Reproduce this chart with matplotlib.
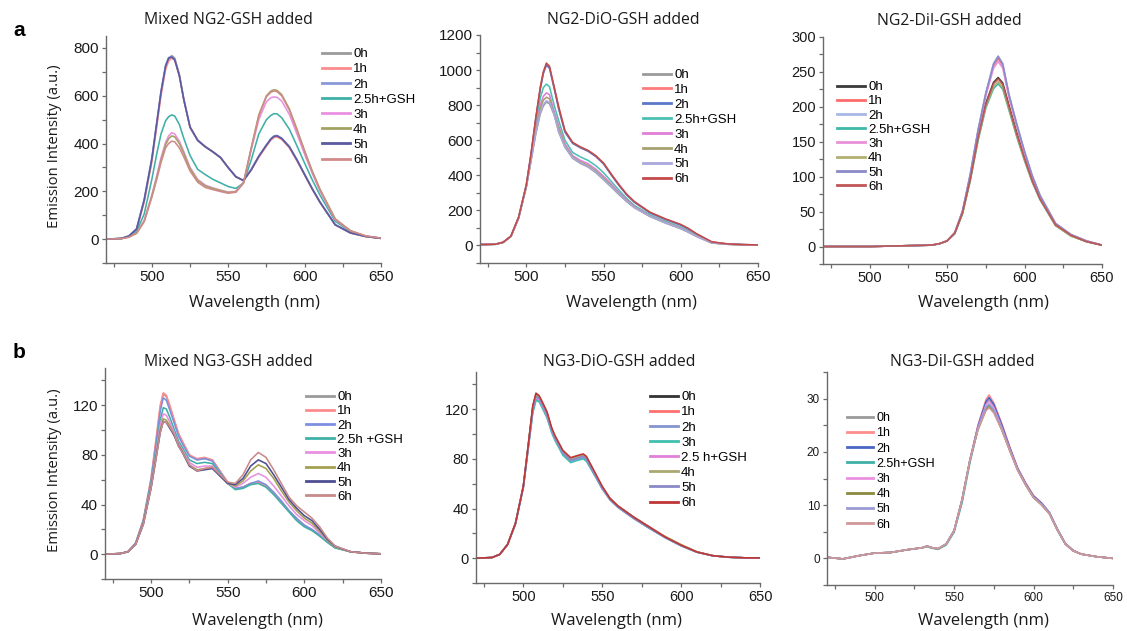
import matplotlib
matplotlib.use("Agg")
import matplotlib.pyplot as plt
from matplotlib.ticker import MultipleLocator
from matplotlib.lines import Line2D

# ---------------------------------------------------------------- data
labels = ["0h", "1h", "2h", "2.5h+GSH", "3h", "4h", "5h", "6h"]
labels_ng3 = ["0h", "1h", "2h", "2.5h +GSH", "3h", "4h", "5h", "6h"]
labels_ng3_dio = ["0h", "1h", "2h", "3h", "2.5 h+GSH", "4h", "5h", "6h"]

# Mixed NG2, GSH added
wl_mixed_ng2 = [470, 480, 485, 490, 495, 500, 503, 506, 509, 511, 513, 515, 518, 521, 525, 530, 535, 540,
                545, 550, 555, 560, 565, 570, 575, 578, 580, 582, 585, 590, 595, 600, 605, 610, 620, 630,
                640, 650]
mixed_ng2 = [
    [0, 2, 12, 40, 160, 330, 470, 610, 720, 755, 768, 758, 690, 585, 470, 415, 388, 366, 342, 300, 262, 245, 290, 345, 392, 418, 428, 430, 420, 385, 330, 270, 210, 155, 60, 26, 11, 3],
    [0, 2, 11, 38, 155, 322, 460, 600, 710, 745, 758, 748, 682, 580, 466, 412, 386, 364, 340, 298, 260, 244, 288, 342, 389, 415, 425, 427, 417, 382, 327, 268, 208, 153, 59, 25, 10, 3],
    [0, 3, 14, 44, 168, 340, 480, 620, 728, 760, 764, 752, 686, 582, 468, 414, 387, 365, 341, 299, 261, 246, 292, 348, 395, 421, 432, 434, 423, 388, 333, 272, 212, 157, 61, 26, 11, 3],
    [0, 2, 10, 32, 105, 250, 350, 440, 495, 512, 520, 515, 480, 420, 350, 292, 270, 250, 235, 220, 212, 235, 330, 440, 500, 518, 525, 524, 508, 460, 390, 318, 248, 185, 75, 31, 12, 4],
    [0, 2, 9, 26, 78, 185, 260, 340, 405, 432, 445, 440, 410, 365, 300, 250, 226, 214, 205, 197, 200, 238, 372, 500, 575, 592, 595, 593, 578, 522, 440, 355, 275, 202, 82, 34, 13, 4],
    [0, 2, 9, 25, 75, 180, 252, 330, 395, 420, 432, 428, 400, 358, 295, 245, 222, 212, 203, 195, 198, 236, 380, 520, 600, 620, 625, 622, 605, 545, 460, 370, 285, 210, 85, 35, 13, 4],
    [0, 3, 13, 42, 163, 335, 475, 615, 724, 757, 762, 750, 684, 581, 469, 413, 386, 365, 341, 299, 261, 245, 289, 346, 393, 419, 430, 432, 421, 386, 331, 270, 210, 155, 60, 26, 11, 3],
    [0, 2, 8, 24, 73, 175, 245, 320, 382, 400, 410, 407, 382, 343, 285, 238, 216, 207, 199, 192, 196, 234, 378, 515, 596, 615, 620, 617, 600, 540, 455, 366, 282, 207, 84, 35, 13, 4],
]

# NG2-DiO, GSH added
wl_ng2_dio = [470, 480, 485, 490, 495, 500, 503, 506, 509, 511, 513, 515, 518, 521, 525, 530, 535, 540,
              545, 550, 555, 560, 565, 570, 580, 590, 600, 605, 610, 620, 630, 640, 650]
ng2_dio = [
    [5, 7, 18, 52, 155, 335, 480, 630, 750, 795, 818, 808, 745, 645, 560, 497, 468, 447, 415, 375, 333, 290, 250, 215, 165, 128, 95, 75, 52, 14, 7, 4, 2],
    [5, 7, 18, 52, 160, 345, 518, 716, 895, 984, 1033, 1015, 900, 780, 649, 584, 559, 539, 509, 467, 404, 344, 289, 247, 187, 149, 117, 94, 66, 20, 9, 5, 3],
    [5, 7, 18, 52, 160, 344, 516, 713, 890, 980, 1028, 1010, 896, 777, 647, 582, 557, 537, 507, 465, 402, 342, 288, 246, 186, 148, 116, 93, 65, 19, 8, 5, 3],
    [5, 7, 18, 52, 158, 340, 500, 680, 840, 900, 920, 905, 800, 710, 600, 530, 505, 485, 455, 415, 365, 315, 268, 228, 175, 138, 105, 84, 58, 16, 8, 4, 2],
    [5, 7, 18, 52, 157, 338, 490, 655, 800, 850, 870, 860, 765, 680, 580, 512, 485, 466, 435, 395, 350, 302, 260, 222, 170, 133, 100, 80, 55, 15, 7, 4, 2],
    [5, 7, 18, 52, 156, 336, 486, 645, 780, 828, 845, 836, 752, 668, 570, 505, 476, 456, 425, 385, 342, 296, 255, 219, 168, 131, 98, 78, 54, 15, 7, 4, 2],
    [5, 7, 18, 52, 156, 337, 483, 635, 756, 802, 825, 815, 751, 650, 563, 500, 471, 450, 418, 378, 336, 293, 252, 217, 167, 130, 97, 76, 53, 15, 7, 4, 2],
    [5, 7, 18, 53, 161, 346, 520, 720, 900, 990, 1040, 1022, 905, 790, 655, 588, 562, 542, 512, 470, 407, 347, 292, 250, 190, 152, 120, 97, 68, 21, 9, 5, 3],
]

# NG2-DiI, GSH added
wl_ng2_dii = [470, 500, 520, 540, 545, 550, 555, 560, 565, 570, 575, 580, 583, 586, 590, 595, 600,
              605, 610, 620, 630, 640, 650]
ng2_dii = [
    [0, 0, 1, 2, 4, 8, 19, 48, 97, 156, 205, 235, 242, 234, 202, 163, 127, 95, 69, 31, 16, 7, 2],
    [0, 0, 1, 2, 4, 8, 20, 50, 102, 165, 218, 259, 269, 259, 216, 174, 135, 101, 73, 33, 17, 8, 2],
    [0, 0, 1, 2, 4, 8, 20, 51, 104, 167, 220, 262, 273, 262, 218, 176, 137, 102, 74, 33, 17, 8, 2],
    [0, 0, 1, 2, 4, 8, 18, 47, 94, 151, 198, 226, 233, 225, 195, 157, 123, 92, 67, 30, 15, 7, 2],
    [0, 0, 1, 2, 4, 8, 19, 50, 101, 163, 215, 255, 265, 255, 213, 172, 133, 100, 72, 33, 17, 8, 2],
    [0, 0, 1, 2, 4, 8, 19, 47, 95, 153, 200, 229, 236, 228, 197, 159, 124, 93, 68, 30, 15, 7, 2],
    [0, 0, 1, 2, 4, 8, 20, 51, 103, 166, 219, 261, 272, 261, 217, 175, 136, 101, 73, 33, 17, 8, 2],
    [0, 0, 1, 2, 4, 8, 19, 48, 96, 155, 203, 233, 240, 232, 200, 161, 126, 94, 68, 31, 16, 7, 2],
]

# Mixed NG3, GSH added
wl_mixed_ng3 = [470, 480, 485, 490, 495, 500, 503, 506, 508, 510, 512, 515, 518, 520, 525, 530, 535,
                540, 545, 550, 555, 560, 565, 570, 575, 580, 585, 590, 595, 600, 605, 610, 615, 620,
                630, 640, 650]
mixed_ng3 = [
    [0, 0.5, 2, 9, 27, 60, 88, 118, 129, 127, 120, 108, 97, 92, 80, 76, 77, 76, 67, 58, 53, 54, 57, 58, 55, 49, 42, 35, 28, 23, 19.5, 15, 10, 5.5, 2, 0.8, 0.3],
    [0, 0.5, 2, 9, 28, 61, 90, 120, 130, 128, 121, 109, 97, 92, 80, 77, 78, 76, 67, 58, 53, 54, 57, 58, 55, 49, 42, 35, 28, 23, 19.5, 15, 10, 5.5, 2, 0.8, 0.3],
    [0, 0.5, 2, 9, 27, 59, 86, 115, 126, 124, 117, 106, 95, 90, 79, 76, 77, 75, 66, 57, 53, 54, 57, 59, 56, 50, 43, 35, 29, 23.5, 20, 15.5, 10, 5.5, 2, 0.8, 0.3],
    [0, 0.5, 2, 8, 26, 57, 82, 108, 118, 117, 111, 101, 91, 87, 76, 73, 74, 73, 65, 57, 52, 53, 56, 57, 54, 48, 41, 34, 27, 22, 19, 14.5, 9.5, 5, 2, 0.8, 0.3],
    [0, 0.5, 2, 8, 25, 55, 79, 104, 113, 112, 107, 98, 89, 85, 74, 70, 71, 71, 64, 57, 54, 57, 62, 65, 62, 55, 47, 39, 32, 27, 23, 17, 11, 6, 2, 0.8, 0.3],
    [0, 0.5, 2, 8, 25, 54, 77, 100, 109, 108, 104, 96, 88, 84, 72, 68, 69, 70, 63, 57, 55, 59, 67, 72, 69, 61, 51, 42, 35, 29, 25, 18.5, 11.5, 6, 2, 0.8, 0.3],
    [0, 0.5, 2, 8, 24, 53, 75, 98, 107, 106, 102, 96, 87, 83, 71, 67, 68, 69, 63, 57, 56, 61, 71, 76, 73, 64, 54, 44, 37, 31, 27, 20, 12, 6.5, 2, 0.8, 0.3],
    [0, 0.5, 2, 8, 24, 53, 75, 98, 107, 106, 103, 97, 87, 83, 72, 67, 69, 70, 64, 58, 57, 64, 76, 82, 78, 68, 57, 46, 39, 34, 29, 22, 13, 6.7, 2, 0.8, 0.3],
]

# NG3-DiO, GSH added (series listed in legend order)
wl_ng3_dio = [470, 480, 485, 490, 495, 500, 503, 506, 508, 510, 512, 515, 518, 520, 525, 530, 535, 538,
              540, 545, 550, 555, 560, 570, 580, 590, 600, 610, 620, 630, 640, 650]
ng3_dio = [
    [0, 0.5, 3, 11, 28, 58, 90, 122, 132, 130, 125, 117, 104, 98, 86, 80, 82, 83, 81, 69, 57, 48, 42, 33, 25, 17, 10.5, 5, 2, 0.8, 0.3, 0.2],
    [0, 0.5, 3, 11, 28, 58, 89, 121, 131, 129, 124, 116, 103, 97, 85, 80, 82, 83, 81, 69, 57, 48, 42, 33, 25, 17, 10.5, 5, 2, 0.8, 0.3, 0.2],
    [0, 0.5, 3, 11, 28, 57, 88, 118, 128, 127, 122, 114, 102, 96, 84, 78, 80, 81, 79, 68, 56, 47, 41, 32, 24, 16.5, 10, 4.8, 2, 0.8, 0.3, 0.2],
    [0, 0.5, 3, 11, 27, 57, 87, 117, 127, 126, 121, 113, 101, 95, 83, 77, 79, 80, 78, 67, 56, 47, 41, 32, 24, 16.5, 10, 4.8, 2, 0.8, 0.3, 0.2],
    [0, 0.5, 3, 11, 28, 58, 88, 120, 130, 128, 123, 115, 103, 97, 85, 79, 81, 82, 80, 68, 57, 48, 42, 33, 25, 17, 10.5, 5, 2, 0.8, 0.3, 0.2],
    [0, 0.5, 3, 11, 28, 58, 89, 121, 131, 130, 124, 116, 104, 98, 86, 80, 82, 83, 81, 69, 57, 48, 42, 33, 25, 17.5, 11, 5.2, 2, 0.8, 0.3, 0.2],
    [0, 0.5, 3, 11, 28, 57, 88, 120, 130, 129, 124, 116, 103, 97, 85, 79, 81, 82, 80, 68, 56, 47, 41, 32, 24, 16.5, 10, 4.8, 2, 0.8, 0.3, 0.2],
    [0, 0.5, 3, 11, 28, 58, 90, 123, 133, 131, 126, 118, 105, 99, 87, 81, 83, 84, 82, 70, 58, 48, 42, 33, 25, 17, 10.5, 5, 2, 0.8, 0.3, 0.2],
]

# NG3-DiI, GSH added
wl_ng3_dii = [470, 480, 490, 500, 510, 520, 530, 533, 536, 540, 545, 550, 555, 560, 565, 570, 572,
              575, 580, 585, 590, 595, 600, 605, 610, 615, 620, 625, 630, 640, 650]
ng3_dii = [
    [0.2, -0.1, 0.5, 1.0, 1.1, 1.6, 2.0, 2.3, 2.0, 1.8, 2.7, 5.2, 11, 18.5, 24.6, 29.0, 29.8, 28.6, 24.8, 20.6, 16.8, 14.0, 11.6, 10.3, 8.5, 5.4, 2.7, 1.4, 0.8, 0.3, 0],
    [0.2, -0.1, 0.5, 1.0, 1.1, 1.6, 2.0, 2.3, 2.0, 1.8, 2.7, 5.2, 11, 18.5, 25.0, 29.8, 30.7, 29.2, 25.3, 21.0, 17.0, 14.2, 11.8, 10.4, 8.6, 5.5, 2.8, 1.5, 0.8, 0.3, 0],
    [0.2, -0.1, 0.5, 1.0, 1.1, 1.6, 2.0, 2.3, 2.0, 1.8, 2.7, 5.2, 11, 18.5, 24.8, 29.4, 30.2, 28.9, 25.1, 20.8, 16.9, 14.1, 11.7, 10.4, 8.6, 5.5, 2.8, 1.5, 0.8, 0.3, 0],
    [0.2, -0.1, 0.5, 1.0, 1.1, 1.6, 2.0, 2.2, 1.9, 1.7, 2.5, 4.9, 10.4, 18.0, 24.3, 28.2, 28.7, 27.6, 24.2, 20.3, 16.6, 13.8, 11.4, 10.1, 8.4, 5.3, 2.7, 1.4, 0.8, 0.3, 0],
    [0.2, -0.1, 0.5, 1.0, 1.1, 1.6, 2.0, 2.3, 2.0, 1.8, 2.7, 5.2, 11, 18.5, 24.5, 28.8, 29.5, 28.3, 24.6, 20.5, 16.7, 13.9, 11.5, 10.2, 8.5, 5.4, 2.7, 1.4, 0.8, 0.3, 0],
    [0.2, -0.1, 0.5, 1.0, 1.1, 1.6, 2.0, 2.3, 2.0, 1.8, 2.7, 5.2, 11, 18.5, 24.2, 27.9, 28.5, 27.5, 24.2, 20.3, 16.6, 13.8, 11.4, 10.1, 8.4, 5.3, 2.7, 1.4, 0.8, 0.3, 0],
    [0.2, -0.1, 0.5, 1.0, 1.1, 1.6, 2.0, 2.3, 2.0, 1.8, 2.7, 5.2, 11, 18.5, 24.4, 28.4, 29.0, 27.9, 24.4, 20.4, 16.7, 13.9, 11.5, 10.2, 8.5, 5.4, 2.7, 1.4, 0.8, 0.3, 0],
    [0.2, -0.1, 0.5, 1.0, 1.1, 1.6, 2.0, 2.3, 2.0, 1.8, 2.7, 5.2, 11, 18.5, 24.1, 27.7, 28.3, 27.3, 24.1, 20.2, 16.5, 13.8, 11.4, 10.0, 8.3, 5.3, 2.7, 1.4, 0.8, 0.3, 0],
]

# ---------------------------------------------------------------- styling
colors_a1 = ["#9a9a9a", "#ff8c8c", "#8898d8", "#3fb0a6", "#ea90e0", "#a3a263", "#5a5a9e", "#d08a8a"]
colors_a2 = ["#9a9a9a", "#ff7b7b", "#5a78c8", "#4cc0b4", "#e07ed8", "#a6a070", "#a8a8dc", "#c44a4a"]
colors_a3 = ["#3a3a3a", "#ff6a6a", "#a8b8e6", "#3fb8a8", "#e890d8", "#b0b070", "#8a8ac8", "#c05656"]
colors_b1 = ["#9a9a9a", "#ff8c8c", "#7f8fe0", "#3fb0a6", "#ea90e0", "#a3a050", "#4e4e92", "#c88a8a"]
colors_b2 = ["#333333", "#ff7070", "#8494d0", "#3fc0b0", "#e080d8", "#aaa870", "#8a8ac8", "#c03535"]
colors_b3 = ["#9a9a9a", "#ff8c8c", "#4a66c4", "#3fb0a6", "#ea90e0", "#8a8a40", "#9a9ad4", "#d09898"]

W, H = 1127, 631
fig = plt.figure(figsize=(W / 100, H / 100), dpi=100)
fig.patch.set_facecolor("white")

TICK_FONT = "Liberation Sans"
LABEL_FONT = "Open Sans"


def box(x0, y0, x1, y1):
    return [x0 / W, 1 - y1 / H, (x1 - x0) / W, (y1 - y0) / H]


panels = [
    dict(wl=wl_mixed_ng2, data=mixed_ng2, colors=colors_a1, names=labels,
         rect=box(106, 36, 381, 263), ylim=(-100, 850), major=200, minor=100, tfs=11,
         title="Mixed NG2-GSH added", tpos=(228, 20), leg=(322, 48), lfs=9.5, lsp=0.22,
         xl=(254, 303), yl=True),
    dict(wl=wl_ng2_dio, data=ng2_dio, colors=colors_a2, names=labels,
         rect=box(480, 35, 758, 263), ylim=(-100, 1200), major=200, minor=100, tfs=11,
         title="NG2-DiO-GSH added", tpos=(623, 20), leg=(643, 69), lfs=9.5, lsp=0.2,
         xl=(631, 303), yl=False),
    dict(wl=wl_ng2_dii, data=ng2_dii, colors=colors_a3, names=labels,
         rect=box(823, 37, 1102, 264), ylim=(-25, 300), major=50, minor=25, tfs=10.5,
         title="NG2-DiI-GSH added", tpos=(949, 21), leg=(837, 81), lfs=9.5, lsp=0.15,
         xl=(983, 303), yl=False),
    dict(wl=wl_mixed_ng3, data=mixed_ng3, colors=colors_b1, names=labels_ng3,
         rect=box(105, 368, 381, 579), ylim=(-20, 150), major=40, minor=20, tfs=11,
         title="Mixed NG3-GSH added", tpos=(228, 362), leg=(306, 391), lfs=9.5, lsp=0.15,
         xl=(257, 621), yl=True),
    dict(wl=wl_ng3_dio, data=ng3_dio, colors=colors_b2, names=labels_ng3_dio,
         rect=box(476, 372, 760, 583), ylim=(-20, 150), major=40, minor=20, tfs=10.5,
         title="NG3-DiO-GSH added", tpos=(619, 362), leg=(650, 391), lfs=9.5, lsp=0.22,
         xl=(616, 621), yl=False),
    dict(wl=wl_ng3_dii, data=ng3_dii, colors=colors_b3, names=labels,
         rect=box(827, 372, 1113, 585), ylim=(-5, 35), major=10, minor=5, tfs=8.5,
         title="NG3-DiI-GSH added", tpos=(962, 362), leg=(847, 412), lfs=9, lsp=0.26,
         xl=(983, 621), yl=False),
]

for p in panels:
    ax = fig.add_axes(p["rect"])
    for ys, c, name in zip(p["data"], p["colors"], p["names"]):
        ax.plot(p["wl"], ys, color=c, lw=1.15, label=name, solid_joinstyle="round")
    ax.set_xlim(470, 650)
    ax.set_ylim(*p["ylim"])
    ax.xaxis.set_major_locator(MultipleLocator(50))
    ax.xaxis.set_minor_locator(MultipleLocator(25))
    ax.yaxis.set_major_locator(MultipleLocator(p["major"]))
    ax.yaxis.set_minor_locator(MultipleLocator(p["minor"]))
    ax.set_xticks([500, 550, 600, 650])
    ax.set_yticks([t for t in ax.get_yticks() if 0 <= t <= p["ylim"][1]])
    for side in ("top", "right"):
        ax.spines[side].set_visible(False)
    for side in ("left", "bottom"):
        ax.spines[side].set_color("#6a6a6a")
        ax.spines[side].set_linewidth(1.0)
    ax.tick_params(which="both", direction="out", length=3, width=0.9, color="#6a6a6a",
                   labelsize=p["tfs"], labelcolor="#1a1a1a", pad=2)
    for lab in ax.get_xticklabels() + ax.get_yticklabels():
        lab.set_fontfamily(TICK_FONT)
    ax.set_facecolor("none")

    handles = [Line2D([], [], color=c, lw=2.0) for c in p["colors"]]
    ax.legend(handles, p["names"], loc="upper left",
              bbox_to_anchor=(p["leg"][0] / W, 1 - p["leg"][1] / H),
              bbox_transform=fig.transFigure, frameon=False, borderpad=0,
              borderaxespad=0, handlelength=2.1, handletextpad=0.25,
              labelspacing=p["lsp"], prop=dict(family=TICK_FONT, size=p["lfs"]))

    fig.text(p["tpos"][0] / W, 1 - p["tpos"][1] / H, p["title"], ha="center", va="center",
             fontsize=11.3, family=LABEL_FONT, color="#1a1a1a")
    fig.text(p["xl"][0] / W, 1 - p["xl"][1] / H, "Wavelength (nm)", ha="center", va="center",
             fontsize=12, family=LABEL_FONT, color="#1a1a1a")
    if p["yl"]:
        cy = (p["rect"][1] + p["rect"][3] / 2)
        fig.text(55 / W, cy + 0.005, "Emission Intensity (a.u.)", rotation=90, ha="center",
                 va="center", fontsize=10.7, family=LABEL_FONT, color="#1a1a1a")

fig.text(13 / W, 1 - 30 / H, "a", fontsize=15, fontweight="bold", family="Liberation Sans",
         ha="left", va="center")
fig.text(13 / W, 1 - 352 / H, "b", fontsize=15, fontweight="bold", family="Liberation Sans",
         ha="left", va="center")

fig.savefig("out.png", dpi=100, facecolor="white")
